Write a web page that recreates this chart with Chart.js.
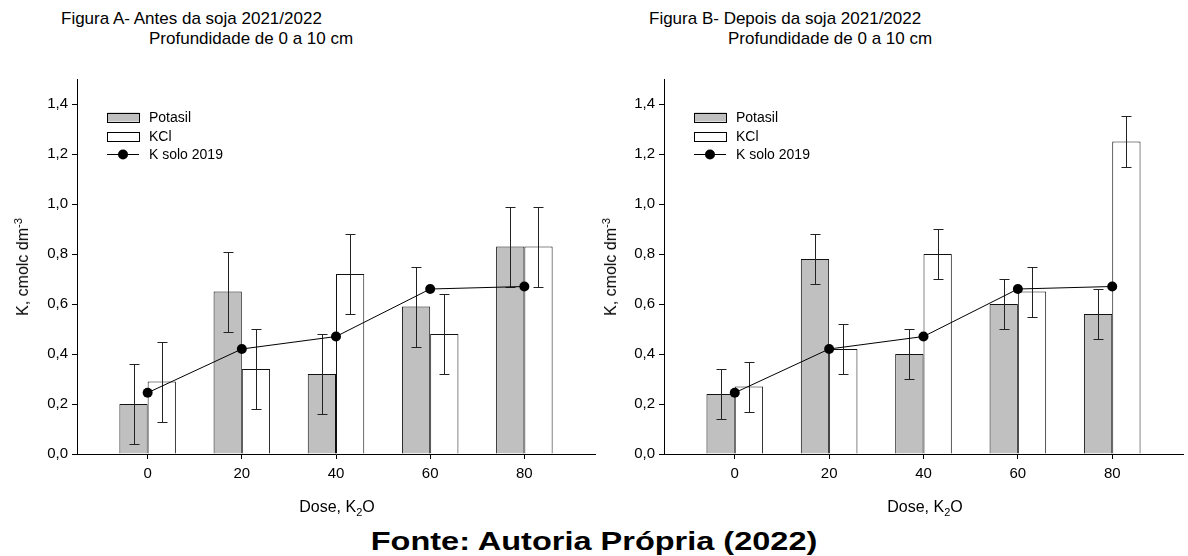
<!DOCTYPE html>
<html>
<head>
<meta charset="utf-8">
<script src="https://cdn.jsdelivr.net/npm/chart.js@4.4.0/dist/chart.umd.min.js"></script>
<style>
  body { margin:0; width:1188px; height:556px; background:#fff; position:relative; overflow:hidden;
         font-family:"Liberation Sans", Arial, sans-serif; color:#000; }
  .t { position:absolute; font-size:17px; line-height:20px; white-space:nowrap; }
  .ytitle { position:absolute; font-size:16px; white-space:nowrap; transform:translate(-50%,-50%) rotate(-90deg); }
  .xtitle { position:absolute; font-size:16px; white-space:nowrap; transform:translate(-50%,-50%); }
  sup, sub { font-size:11px; line-height:0; }
  #fonte { position:absolute; left:0; width:1188px; top:527px; text-align:center; font-size:26px; font-weight:bold;
           line-height:28px; transform:scaleX(1.25); }
  canvas { position:absolute; }
</style>
</head>
<body>
<div class="t" style="left:61px;top:9px">Figura A- Antes da soja 2021/2022</div>
<div class="t" style="left:149px;top:29px">Profundidade de 0 a 10 cm</div>
<div class="t" style="left:649px;top:9px">Figura B- Depois da soja 2021/2022</div>
<div class="t" style="left:728px;top:29px">Profundidade de 0 a 10 cm</div>

<canvas id="chartA" width="600" height="440" style="left:0;top:60px"></canvas>
<canvas id="chartB" width="588" height="440" style="left:600px;top:60px"></canvas>

<div class="ytitle" style="left:23px;top:267px">K, cmolc dm<sup>-3</sup></div>
<div class="ytitle" style="left:611px;top:267px">K, cmolc dm<sup>-3</sup></div>
<div class="xtitle" style="left:337px;top:507px">Dose, K<sub>2</sub>O</div>
<div class="xtitle" style="left:925px;top:507px">Dose, K<sub>2</sub>O</div>
<div id="fonte">Fonte: Autoria Própria (2022)</div>

<script>
// doses de K2O
const doses = [0, 20, 40, 60, 80];

// Figura A - antes da soja
const potasilA = [0.20, 0.65, 0.32, 0.59, 0.83];
const potasilErrA = [0.16, 0.16, 0.16, 0.16, 0.16];
const kclA = [0.29, 0.34, 0.72, 0.48, 0.83];
const kclErrA = [0.16, 0.16, 0.16, 0.16, 0.16];
const ksoloA = [0.245, 0.42, 0.47, 0.66, 0.67];

// Figura B - depois da soja
const potasilB = [0.24, 0.78, 0.40, 0.60, 0.56];
const potasilErrB = [0.10, 0.10, 0.10, 0.10, 0.10];
const kclB = [0.27, 0.42, 0.80, 0.65, 1.25];
const kclErrB = [0.10, 0.10, 0.10, 0.10, 0.10];
const ksoloB = [0.245, 0.42, 0.47, 0.66, 0.67];

const legendLabels = ['Potasil', 'KCl', 'K solo 2019'];

Chart.defaults.font.family = '"Liberation Sans", Arial, sans-serif';
Chart.defaults.font.size = 15;
Chart.defaults.color = '#000';

// barras de erro, desenhadas logo depois de cada serie de barras
const errorBars = {
  id: 'errorBars',
  afterDatasetDraw(chart, args) {
    const ds = chart.data.datasets[args.index];
    if (!ds.errors) return;
    const y = chart.scales.y;
    const ctx = chart.ctx;
    ctx.save();
    ctx.strokeStyle = '#222';
    ctx.lineWidth = 1;
    args.meta.data.forEach((el, i) => {
      const v = ds.data[i].y, e = ds.errors[i];
      const x = Math.round(el.x) + 0.5;
      const top = Math.round(y.getPixelForValue(v + e)) + 0.5;
      const bot = Math.round(y.getPixelForValue(v - e)) + 0.5;
      ctx.beginPath();
      ctx.moveTo(x, top); ctx.lineTo(x, bot);
      ctx.moveTo(x - 5, top); ctx.lineTo(x + 5, top);
      ctx.moveTo(x - 5, bot); ctx.lineTo(x + 5, bot);
      ctx.stroke();
    });
    ctx.restore();
  }
};

// legenda dentro da area do grafico
const insideLegend = {
  id: 'insideLegend',
  afterDraw(chart) {
    const ctx = chart.ctx;
    const a = chart.chartArea;
    const bx = a.left + 30, bw = 32, bh = 9;
    const rows = [a.top + 38, a.top + 57, a.top + 75];
    ctx.save();
    ctx.lineWidth = 1;
    ctx.strokeStyle = '#000';
    ctx.fillStyle = '#c0c0c0';
    ctx.fillRect(bx + 0.5, rows[0] - bh / 2, bw, bh);
    ctx.strokeRect(bx + 0.5, Math.round(rows[0] - bh / 2) + 0.5, bw, bh);
    ctx.fillStyle = '#fff';
    ctx.fillRect(bx + 0.5, rows[1] - bh / 2, bw, bh);
    ctx.strokeRect(bx + 0.5, Math.round(rows[1] - bh / 2) + 0.5, bw, bh);
    ctx.beginPath();
    ctx.moveTo(bx, rows[2] + 0.5); ctx.lineTo(bx + bw, rows[2] + 0.5);
    ctx.stroke();
    ctx.fillStyle = '#000';
    ctx.beginPath();
    ctx.arc(bx + bw / 2, rows[2] + 0.5, 5, 0, Math.PI * 2);
    ctx.fill();
    ctx.font = '14px "Liberation Sans", Arial, sans-serif';
    ctx.textBaseline = 'middle';
    legendLabels.forEach((t, i) => ctx.fillText(t, bx + bw + 10, rows[i] + 1));
    ctx.restore();
  }
};

function makeChart(id, pot, potErr, kcl, kclErr, ksolo, yWidth, padRight) {
  const pts = arr => doses.map((d, i) => ({x: d, y: arr[i]}));
  return new Chart(document.getElementById(id), {
    type: 'bar',
    data: {
      datasets: [
        { type: 'line', label: 'K solo 2019', data: pts(ksolo), borderColor: '#000', borderWidth: 1,
          pointRadius: 5, pointBackgroundColor: '#000', pointBorderColor: '#000', pointBorderWidth: 0,
          tension: 0, order: 0 },
        { label: 'Potasil', data: pts(pot), errors: potErr, backgroundColor: '#c0c0c0', borderColor: '#111',
          borderWidth: 1, categoryPercentage: 0.6, barPercentage: 1.0, order: 1 },
        { label: 'KCl', data: pts(kcl), errors: kclErr, backgroundColor: '#fff', borderColor: '#111',
          borderWidth: 1, categoryPercentage: 0.6, barPercentage: 1.0, order: 1 }
      ]
    },
    options: {
      responsive: false,
      animation: false,
      layout: { padding: { top: 19, right: padRight, left: 0, bottom: 0 } },
      plugins: { legend: { display: false }, tooltip: { enabled: false } },
      scales: {
        x: {
          type: 'linear', min: -15, max: 95, offset: false,
          afterBuildTicks: s => { s.ticks = s.ticks.filter(t => t.value >= 0 && t.value <= 80); },
          afterFit: s => { s.height = 46; },
          ticks: { stepSize: 20, padding: 6, maxRotation: 0, autoSkip: false },
          grid: { drawOnChartArea: false, tickLength: 5, color: '#000', offset: false },
          border: { color: '#000', width: 1 }
        },
        y: {
          min: 0, max: 1.5,
          afterBuildTicks: s => { s.ticks = s.ticks.filter(t => t.value <= 1.45); },
          afterFit: s => { s.width = yWidth; },
          ticks: { stepSize: 0.2, padding: 4, callback: v => v.toFixed(1).replace('.', ',') },
          grid: { drawOnChartArea: false, tickLength: 5, color: '#000' },
          border: { color: '#000', width: 1 }
        }
      }
    },
    plugins: [errorBars, insideLegend]
  });
}

makeChart('chartA', potasilA, potasilErrA, kclA, kclErrA, ksoloA, 77, 2);
makeChart('chartB', potasilB, potasilErrB, kclB, kclErrB, ksoloB, 64, 3);
</script>
</body>
</html>
